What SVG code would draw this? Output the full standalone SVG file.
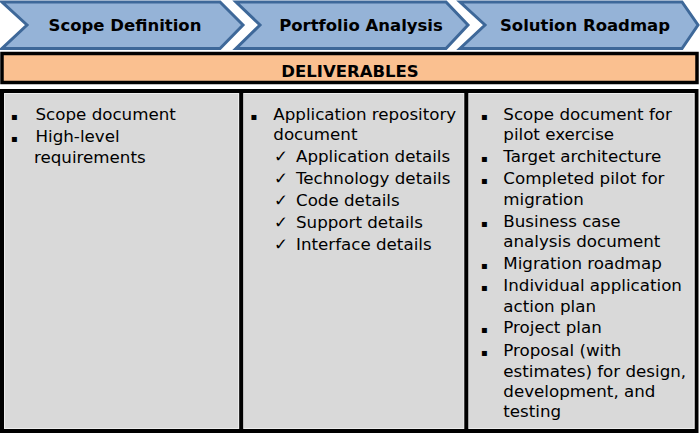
<svg xmlns="http://www.w3.org/2000/svg" width="700" height="433" viewBox="0 0 700 433">
<style>
.chev{fill:#95B3D7;stroke:#3E6899;stroke-width:3;stroke-linejoin:miter}
.ct{font-family:Verdana,"DejaVu Sans",sans-serif;font-size:16.5px;font-weight:bold;fill:#000;text-anchor:middle}
.t{font-family:Verdana,"DejaVu Sans",sans-serif;font-size:16.7px;fill:#000}
.b{font-family:"DejaVu Sans",sans-serif;font-size:10px;fill:#000}
.cell{fill:#D9D9D9;stroke:#EDEDED;stroke-width:1}
</style>
<rect width="700" height="433" fill="#fff"/>
<g id="phase1">
<polygon class="chev" points="2,2 220,2 243,25 220,48.5 2,48.5 27,25"/>
<text class="ct" x="125" y="30.5">Scope Definition</text>
</g>
<g id="phase2">
<polygon class="chev" points="236,2 446,2 468,25 446,48.5 236,48.5 260,25"/>
<text class="ct" x="361" y="30.5">Portfolio Analysis</text>
</g>
<g id="phase3">
<polygon class="chev" points="460,2 682,2 698,25 682,48.5 460,48.5 485,25"/>
<text class="ct" x="585" y="30.5">Solution Roadmap</text>
</g>
<g id="deliverables">
<rect x="2" y="53.5" width="695" height="29" fill="#FAC090" stroke="#000" stroke-width="3.5"/>
<text class="ct" x="350" y="77">DELIVERABLES</text>
</g>
<g id="table">
<rect x="2" y="91" width="694.5" height="340" fill="#D9D9D9" stroke="#000" stroke-width="4"/>
<rect class="cell" x="4.5" y="93.5" width="234" height="335"/>
<rect class="cell" x="243.5" y="93.5" width="220.5" height="335"/>
<rect class="cell" x="468.5" y="93.5" width="225.5" height="335"/>
<line x1="241.2" y1="91" x2="241.2" y2="431" stroke="#000" stroke-width="4"/>
<line x1="466.3" y1="91" x2="466.3" y2="431" stroke="#000" stroke-width="4"/>
</g>
<g id="col1">
<text class="b" x="11" y="120">▪</text>
<text class="t" x="35.5" y="120">Scope document</text>
<text class="b" x="11" y="142">▪</text>
<text class="t" x="35.5" y="142">High-level</text>
<text class="t" x="34" y="162.5">requirements</text>
</g>
<g id="col2">
<text class="b" x="250.5" y="119.5">▪</text>
<text class="t" x="273.3" y="119.5">Application repository</text>
<text class="t" x="273.3" y="140">document</text>
<text class="t" x="274" y="162">✓</text>
<text class="t" x="296" y="162">Application details</text>
<text class="t" x="274" y="184">✓</text>
<text class="t" x="296" y="184">Technology details</text>
<text class="t" x="274" y="206">✓</text>
<text class="t" x="296" y="206">Code details</text>
<text class="t" x="274" y="228">✓</text>
<text class="t" x="296" y="228">Support details</text>
<text class="t" x="274" y="250">✓</text>
<text class="t" x="296" y="250">Interface details</text>
</g>
<g id="col3">
<text class="b" x="481" y="119.5">▪</text>
<text class="t" x="503.3" y="119.5">Scope document for</text>
<text class="t" x="503.3" y="140">pilot exercise</text>
<text class="b" x="481" y="162">▪</text>
<text class="t" x="503.3" y="162">Target architecture</text>
<text class="b" x="481" y="184">▪</text>
<text class="t" x="503.3" y="184">Completed pilot for</text>
<text class="t" x="503.3" y="205">migration</text>
<text class="b" x="481" y="226.5">▪</text>
<text class="t" x="503.3" y="226.5">Business case</text>
<text class="t" x="503.3" y="247">analysis document</text>
<text class="b" x="481" y="268.5">▪</text>
<text class="t" x="503.3" y="268.5">Migration roadmap</text>
<text class="b" x="481" y="291">▪</text>
<text class="t" x="503.3" y="291">Individual application</text>
<text class="t" x="503.3" y="311.5">action plan</text>
<text class="b" x="481" y="333">▪</text>
<text class="t" x="503.3" y="333">Project plan</text>
<text class="b" x="481" y="355.5">▪</text>
<text class="t" x="503.3" y="355.5">Proposal (with</text>
<text class="t" x="503.3" y="376.5">estimates) for design,</text>
<text class="t" x="503.3" y="397">development, and</text>
<text class="t" x="503.3" y="417">testing</text>
</g>
</svg>
